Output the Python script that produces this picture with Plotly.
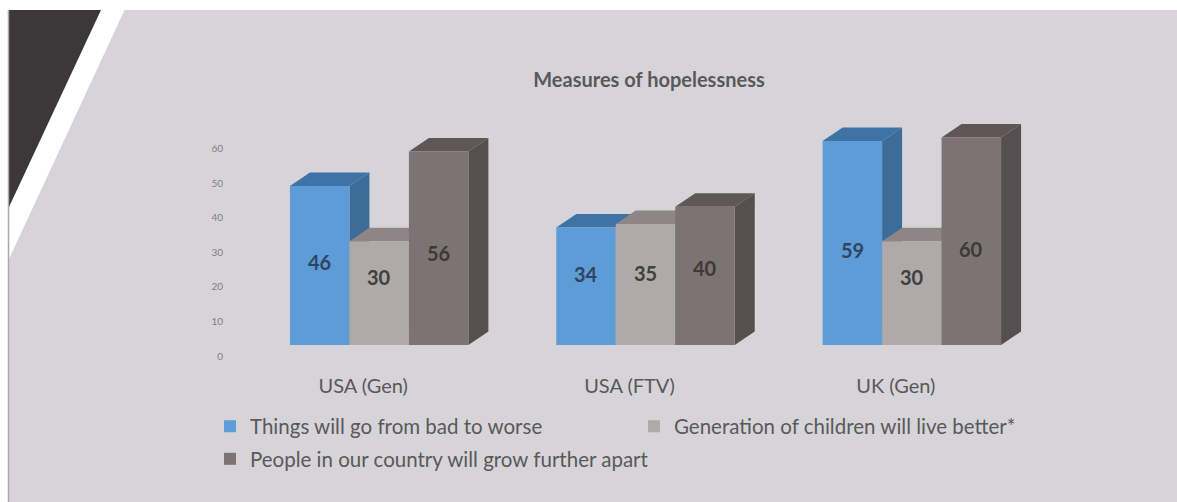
import plotly.graph_objects as go

# ---- data -------------------------------------------------------------
categories = ["USA (Gen)", "USA (FTV)", "UK (Gen)"]
series_names = [
    "Things will go from bad to worse",
    "Generation of children will live better*",
    "People in our country will grow further apart",
]
bad_to_worse = [46, 34, 59]
children_better = [30, 35, 30]
grow_apart = [56, 40, 60]
y_tick_values = [0, 10, 20, 30, 40, 50, 60]

# ---- layout constants --------------------------------------------------
W, H = 1177, 502
ML, MR, MT, MB = 246, 132, 103, 157
PW, PH = W - ML - MR, H - MT - MB
X_RANGE = [-0.5, len(categories) - 0.5]
Y_RANGE = [0, 70]
BARGAP = 0.33
DEPTH_PX = (20, 13.5)          # oblique offset of the bar's back faces

FONT = "Lato"
TEXT_GREY = "#595959"
BG_GREY = "#D6D4D8"

# colours of the three visible faces of each 3-D column
faces = [
    dict(front="#5E9CD8", top="#3F73A6", side="#3D6C99", label="#2E4560"),
    dict(front="#AFA9A7", top="#8E8684", side="#8A8381", label="#404040"),
    dict(front="#7C7472", top="#5E5756", side="#554F4E", label="#3E3838"),
]
series_values = [bad_to_worse, children_better, grow_apart]

x_unit = (X_RANGE[1] - X_RANGE[0]) / PW      # data units per pixel
y_unit = (Y_RANGE[1] - Y_RANGE[0]) / PH
dx = DEPTH_PX[0] * x_unit
dy = DEPTH_PX[1] * y_unit

n_series = len(series_values)
group_w = 1 - BARGAP
bar_w = group_w / n_series
x_pos = list(range(len(categories)))


def bar_left(i, j):
    return x_pos[i] - group_w / 2 + bar_w * j


def px_x(p):
    return (p - ML) / PW


def px_y(p):
    return 1 - (p - MT) / PH


fig = go.Figure()

for j, (name, vals, f) in enumerate(zip(series_names, series_values, faces)):
    fig.add_trace(go.Bar(
        x=x_pos, y=vals, name=name,
        marker=dict(color=f["front"], line=dict(width=0)),
        legend="legend" if j == 0 else f"legend{j + 1}",
        hoverinfo="skip",
    ))

shapes = []

# slide decoration: white top strip, white left band with a diagonal edge,
# dark corner triangle and a thin frame line on the left
shapes.append(dict(
    type="rect", xref="paper", yref="paper", layer="below",
    x0=px_x(-2), x1=px_x(W + 2), y0=px_y(-2), y1=px_y(10),
    fillcolor="white", line=dict(width=0)))
shapes.append(dict(
    type="path", xref="paper", yref="paper", layer="below",
    path=(f"M{px_x(-2)},{px_y(9)} L{px_x(125)},{px_y(9)} "
          f"L{px_x(9)},{px_y(259)} L{px_x(9)},{px_y(H + 2)} "
          f"L{px_x(-2)},{px_y(H + 2)} Z"),
    fillcolor="white", line=dict(width=0)))
shapes.append(dict(
    type="path", xref="paper", yref="paper", layer="below",
    path=(f"M{px_x(9)},{px_y(10)} L{px_x(101)},{px_y(10)} "
          f"L{px_x(9)},{px_y(207)} Z"),
    fillcolor="#3A3839", line=dict(width=0)))
shapes.append(dict(
    type="line", xref="paper", yref="paper", layer="below",
    x0=px_x(8.5), x1=px_x(8.5), y0=px_y(10), y1=px_y(H + 2),
    line=dict(color="#A8A8A8", width=1.5)))

# top and right-hand faces of each column, painted left to right so that
# the next column's front face hides what lies behind it
for i in range(len(categories)):
    for j, (vals, f) in enumerate(zip(series_values, faces)):
        v = vals[i]
        xl = bar_left(i, j)
        xr = xl + bar_w
        shapes.append(dict(
            type="path", xref="x", yref="y", layer="below",
            path=(f"M{xl},{v} L{xr},{v} L{xr + dx},{v + dy} "
                  f"L{xl + dx},{v + dy} Z"),
            fillcolor=f["top"], line=dict(width=0)))
        shapes.append(dict(
            type="path", xref="x", yref="y", layer="below",
            path=(f"M{xr},0 L{xr},{v} L{xr + dx},{v + dy} "
                  f"L{xr + dx},{dy} Z"),
            fillcolor=f["side"], line=dict(width=0)))

# value labels, placed around the middle of each column
annotations = []
for i in range(len(categories)):
    for j, (vals, f) in enumerate(zip(series_values, faces)):
        v = vals[i]
        annotations.append(dict(
            x=bar_left(i, j) + bar_w / 2, y=0.27 * v + 11.5,
            xref="x", yref="y", text=str(v), showarrow=False,
            font=dict(family=FONT, size=20, color=f["label"], weight="bold"),
        ))

legend_common = dict(
    xref="container", yref="container", xanchor="left", yanchor="middle",
    bgcolor="rgba(0,0,0,0)", borderwidth=0,
    font=dict(family=FONT, size=20.5, color=TEXT_GREY),
)

fig.update_layout(
    width=W, height=H,
    margin=dict(l=ML, r=MR, t=MT, b=MB, pad=0, autoexpand=False),
    paper_bgcolor=BG_GREY,
    plot_bgcolor="rgba(0,0,0,0)",
    barmode="group", bargap=BARGAP, bargroupgap=0,
    title=dict(
        text="<b>Measures of hopelessness</b>",
        xref="container", yref="container",
        x=649 / W, y=1 - 80 / H, xanchor="center", yanchor="middle",
        font=dict(family=FONT, size=20, color=TEXT_GREY),
    ),
    xaxis=dict(
        range=X_RANGE, tickvals=x_pos, ticktext=categories,
        showgrid=False, zeroline=False, showline=False, ticks="",
        tickfont=dict(family=FONT, size=20, color=TEXT_GREY),
        ticklabelstandoff=27, ticklabelshift=-16, fixedrange=True,
        automargin=False,
    ),
    yaxis=dict(
        range=Y_RANGE, tickvals=y_tick_values,
        showgrid=False, zeroline=False, showline=False, ticks="",
        tickfont=dict(family=FONT, size=10, color="#808080"),
        ticklabelstandoff=22, ticklabelshift=11, fixedrange=True,
        automargin=False,
    ),
    showlegend=True,
    legend=dict(x=210 / W, y=1 - 426.5 / H, **legend_common),
    legend2=dict(x=634 / W, y=1 - 426.5 / H, **legend_common),
    legend3=dict(x=210 / W, y=1 - 459 / H, **legend_common),
    shapes=shapes,
    annotations=annotations,
)

fig.write_html("out.html")
